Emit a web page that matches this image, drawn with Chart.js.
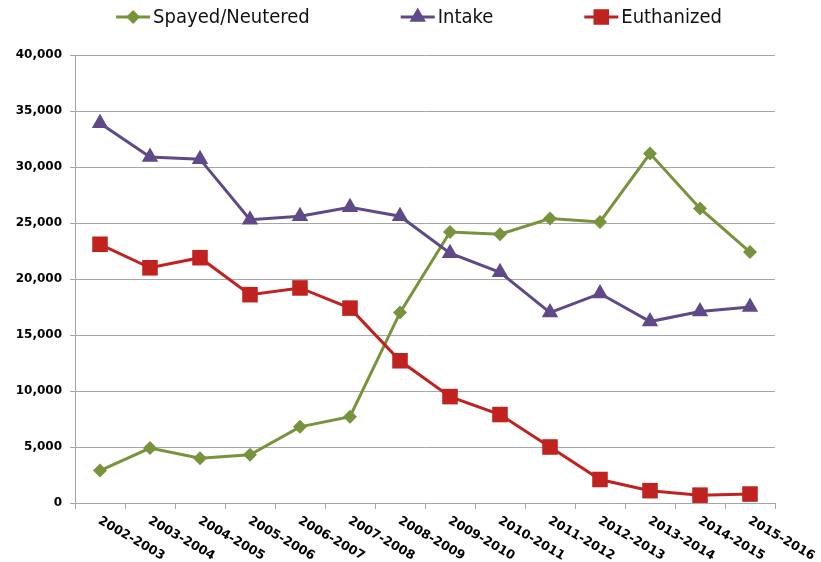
<!DOCTYPE html>
<html><head><meta charset="utf-8">
<script src="https://cdn.jsdelivr.net/npm/chart.js@4.4.1/dist/chart.umd.min.js"></script>
<style>html,body{margin:0;padding:0;background:#fff}#wrap{width:821px;height:562px}</style>
</head><body><div id="wrap"><canvas id="c" width="821" height="562"></canvas></div>
<script>
const categories = ['2002-2003','2003-2004','2004-2005','2005-2006','2006-2007','2007-2008','2008-2009','2009-2010','2010-2011','2011-2012','2012-2013','2013-2014','2014-2015','2015-2016'];
const spayedNeutered = [2900,4900,4000,4300,6800,7700,17000,24200,24000,25400,25100,31200,26300,22400];
const intake = [33900,30900,30700,25300,25600,26400,25600,22300,20600,17000,18700,16200,17100,17500];
const euthanized = [23100,21000,21900,18600,19200,17400,12700,9500,7900,5000,2100,1100,700,800];
const seriesNames = ['Spayed/Neutered','Intake','Euthanized'];
const yMin = 0, yMax = 40000, yStep = 5000;

const GREEN = '#77933c', PURPLE = '#5f4a87', RED = '#c0221f';
const AXIS = '#a6a6a6';

function marker(ctx, style, x, y, r, color) {
  ctx.save();
  ctx.fillStyle = color;
  ctx.beginPath();
  if (style === 'rectRot') {
    ctx.moveTo(x, y - r); ctx.lineTo(x + r, y); ctx.lineTo(x, y + r); ctx.lineTo(x - r, y);
  } else if (style === 'triangle') {
    ctx.moveTo(x, y - r); ctx.lineTo(x + r * 0.866, y + r * 0.5); ctx.lineTo(x - r * 0.866, y + r * 0.5);
  } else {
    const s = r * Math.SQRT1_2;
    ctx.rect(x - s, y - s, 2 * s, 2 * s);
  }
  ctx.closePath();
  ctx.fill();
  ctx.restore();
}

const legendPlugin = {
  id: 'customLegend',
  afterDraw(chart) {
    const ctx = chart.ctx;
    ctx.save();
    ctx.font = "20px 'Liberation Sans Narrow', 'DejaVu Sans Condensed', sans-serif";
    ctx.textBaseline = 'middle';
    ctx.fillStyle = '#111';
    const lineW = 34, gapText = 3, gapItem = 91;
    const items = chart.data.datasets.map(ds => ({ ds, w: ctx.measureText(ds.label).width }));
    let total = 0;
    items.forEach((it, i) => { total += lineW + gapText + it.w + (i < items.length - 1 ? gapItem : 0); });
    let x = 419 - total / 2;
    const y = 17;
    items.forEach(it => {
      const ds = it.ds;
      ctx.strokeStyle = ds.borderColor;
      ctx.lineWidth = 3;
      ctx.beginPath(); ctx.moveTo(x, y); ctx.lineTo(x + lineW, y); ctx.stroke();
      marker(ctx, ds.pointStyle, x + lineW / 2, y, ds.pointRadius, ds.borderColor);
      ctx.fillText(ds.label, x + lineW + gapText, y + 1);
      x += lineW + gapText + it.w + gapItem;
    });
    ctx.restore();
  }
};

const xLabelPlugin = {
  id: 'xLabels',
  afterDraw(chart) {
    const ctx = chart.ctx, xs = chart.scales.x;
    ctx.save();
    ctx.font = "bold 12.5px 'DejaVu Sans', sans-serif";
    ctx.fillStyle = '#000';
    ctx.textAlign = 'left';
    ctx.textBaseline = 'middle';
    categories.forEach((lab, i) => {
      const px = xs.getPixelForValue(i);
      ctx.save();
      ctx.translate(px - 1, xs.top + 17);
      ctx.rotate(30 * Math.PI / 180);
      ctx.fillText(lab, 0, 0);
      ctx.restore();
    });
    ctx.restore();
  }
};

new Chart(document.getElementById('c'), {
  type: 'line',
  data: {
    labels: categories,
    datasets: [
      { label: seriesNames[0], data: spayedNeutered, borderColor: GREEN, backgroundColor: GREEN, borderWidth: 3, pointStyle: 'rectRot', pointRadius: 7, pointBorderWidth: 0, order: 3 },
      { label: seriesNames[1], data: intake, borderColor: PURPLE, backgroundColor: PURPLE, borderWidth: 3, pointStyle: 'triangle', pointRadius: 9.5, pointBorderWidth: 0, order: 2 },
      { label: seriesNames[2], data: euthanized, borderColor: RED, backgroundColor: RED, borderWidth: 3, pointStyle: 'rect', pointRadius: 11, pointBorderWidth: 0, order: 1 }
    ]
  },
  options: {
    responsive: false,
    animation: false,
    devicePixelRatio: 1,
    layout: { padding: { top: 55, right: 46, left: 0, bottom: 0 } },
    plugins: { legend: { display: false }, tooltip: { enabled: false } },
    elements: { line: { tension: 0 } },
    scales: {
      x: {
        offset: true,
        grid: { display: true, drawOnChartArea: false, drawTicks: true, tickLength: 6, color: AXIS, offset: true },
        border: { display: true, color: AXIS, width: 1 },
        ticks: { display: false },
        afterFit(s) { s.height = 59; }
      },
      y: {
        min: yMin, max: yMax,
        grid: { color: AXIS, tickLength: 5, drawTicks: true },
        border: { display: true, color: AXIS, width: 1 },
        ticks: {
          stepSize: yStep, padding: 8, color: '#000',
          font: { family: "'DejaVu Sans', sans-serif", size: 12, weight: 'bold' },
          callback: v => v.toLocaleString('en-US')
        },
        afterFit(s) { s.width = 75; }
      }
    }
  },
  plugins: [legendPlugin, xLabelPlugin]
});
</script>
</body></html>
